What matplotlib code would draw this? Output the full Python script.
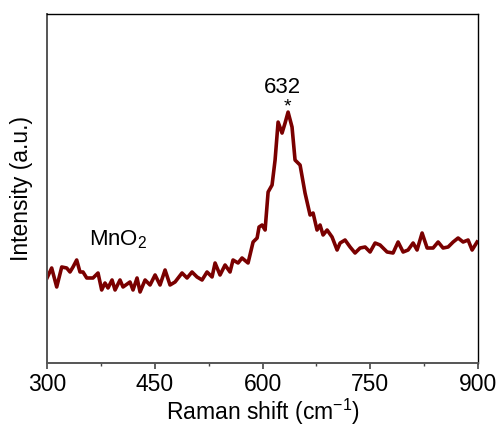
import matplotlib
matplotlib.use("Agg")
import matplotlib.pyplot as plt
from matplotlib.ticker import MultipleLocator

plt.rcParams["font.family"] = ["Liberation Sans", "DejaVu Sans"]
plt.rcParams["mathtext.fontset"] = "custom"
plt.rcParams["mathtext.rm"] = "Liberation Sans"

# Raman spectrum of MnO2 (arbitrary units)
shift = [300, 306.5, 313.5, 320.5, 327.4, 332, 336.2, 341.3, 345.9, 350.1,
         355.3, 364, 371, 376.1, 380.7, 384.9, 390.5, 394.7, 401.6, 405.8,
         415.5, 419.7, 425.3, 429.5, 436.5, 443.4, 450.4, 457.3, 464.3, 471.2,
         478.2, 487.9, 494.9, 501.8, 508.8, 515.8, 522.7, 529.7, 533.9, 540.8,
         547.8, 554.7, 558.9, 565.9, 571.4, 579.8, 586.8, 592.4, 595.1, 599.3,
         603.5, 607.7, 613.2, 617.4, 621.6, 627.1, 631.3, 635.5, 641.0, 645.2,
         652.2, 659.1, 666.1, 670.3, 675.8, 680.0, 684.2, 689.8, 696.7, 703.7,
         707.9, 714.8, 721.8, 728.7, 735.7, 742.7, 749.6, 756.6, 763.5, 773.3,
         781.6, 788.6, 795.6, 802.5, 809.5, 815.0, 822.0, 829.0, 837.3, 844.3,
         851.2, 858.2, 865.2, 872.1, 879.1, 886.0, 891.6, 898.5]
intensity = [85, 95, 76, 96, 95, 91, 96, 103, 91, 91,
             85, 85, 90, 73, 80, 75, 83, 73, 83, 76,
             81, 73, 85, 71, 83, 78, 88, 78, 93, 78,
             81, 90, 85, 91, 86, 83, 91, 86, 100, 88,
             98, 91, 103, 100, 105, 100, 121, 125, 136, 138,
             133, 171, 178, 203, 241, 230, 240, 251, 236, 203,
             198, 170, 148, 150, 133, 138, 128, 133, 126, 113,
             120, 123, 116, 110, 115, 116, 111, 120, 118, 111,
             110, 121, 111, 113, 120, 113, 130, 115, 115, 121,
             115, 116, 121, 125, 121, 123, 113, 121]

fig = plt.figure(figsize=(4.99, 4.28), dpi=100)
ax = fig.add_axes([0.0942, 0.152, 0.864, 0.815])

ax.plot(shift, intensity, color="#7a0000", linewidth=2.6)

ax.set_xlim(300, 900)
ax.set_ylim(0, 349)
ax.xaxis.set_major_locator(MultipleLocator(150))
ax.xaxis.set_minor_locator(MultipleLocator(75))
ax.set_yticks([])
ax.tick_params(axis="x", which="major", direction="out", length=4, width=1.2,
               labelsize=16.5, pad=3, colors="#444444", labelcolor="black")
ax.tick_params(axis="x", which="minor", direction="out", length=2.5, width=1,
               colors="#444444")
ax.grid(False)

for side in ["left", "bottom"]:
    ax.spines[side].set_color("#555555")
    ax.spines[side].set_linewidth(1.4)
for side in ["top", "right"]:
    ax.spines[side].set_color("black")
    ax.spines[side].set_linewidth(1.0)

ax.set_xlabel("Raman shift (cm$^{-1}$)", fontsize=16.5, labelpad=1)
ax.set_ylabel("Intensity (a.u.)", fontsize=16.5, labelpad=10)

ax.text(627, 276, "632", fontsize=16, ha="center", va="center")
ax.text(635, 256, "*", fontsize=14, ha="center", va="center")
ax.text(399, 123, "MnO$_2$", fontsize=16, ha="center", va="center")

fig.savefig("out.png", dpi=100)
